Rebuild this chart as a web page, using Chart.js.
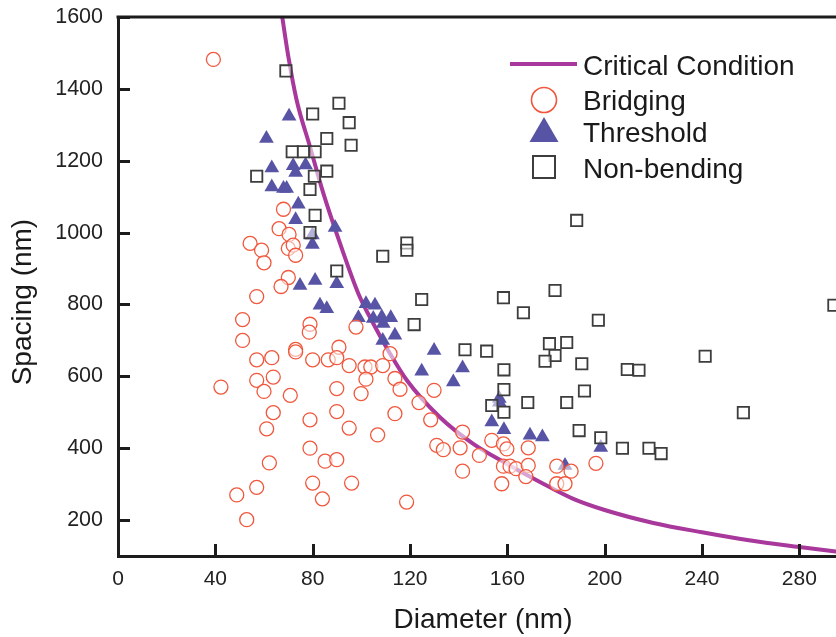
<!DOCTYPE html>
<html>
<head>
<meta charset="utf-8">
<title>Spacing vs Diameter</title>
<script src="https://cdn.jsdelivr.net/npm/chart.js"></script>
<style>
    html, body { margin: 0; padding: 0; background: #fff; overflow: hidden; }
    #wrap { width: 860px; height: 637px; }
</style>
</head>
<body>
<div id="wrap"><canvas id="chart" width="860" height="637"></canvas></div>
<script>
// Data
const xTicks = [0, 40, 80, 120, 160, 200, 240, 280];
const yTicks = [200, 400, 600, 800, 1000, 1200, 1400, 1600];

// Critical condition curve
const criticalX = [67.5, 70, 73.4, 78.9, 84.4, 91.5, 98.8, 104.9, 111.8, 118.7, 132.3, 146, 159.7, 173.4, 187.1, 200, 220, 240, 260, 280, 300];
const criticalY = [1600, 1490, 1369, 1239, 1109, 965, 830, 747, 663, 589, 486, 412, 357, 306, 259, 228, 192, 166, 143, 125, 108];

// Bridging (open circles)
const bridgingX = [39.2, 68, 66.2, 70.3, 54.3, 59, 70, 72, 73, 60, 70, 67, 57, 51.2, 78.9, 78.6, 51.2, 90.8, 73, 73,
    57, 63.2, 80, 86.4, 89.9, 95, 57, 63.8, 60, 42.3, 70.8, 89.9, 63.8, 89.9, 78.9, 61.1, 95, 78.9, 62.2, 85.1,
    89.9, 57, 80, 96, 48.8, 84, 52.9, 97.8, 111.8, 101.5, 103.9, 108.8, 101.9, 113.8, 115.9, 99.9, 129.9, 123.7, 113.8, 128.5,
    106.7, 141.6, 153.6, 158.4, 159.8, 131, 133.7, 140.6, 148.5, 168.6, 158.4, 161.1, 163.6, 168.6, 141.6, 167.6, 157.7, 180.3, 186.2, 180.3,
    183.7, 118.6, 196.4];
const bridgingY = [1482, 1065, 1011, 995, 970, 951, 956, 965, 937, 916, 875, 850, 822, 758, 745, 723, 700, 681, 675, 668,
    646, 652, 646, 646, 652, 630, 589, 598, 558, 570, 547, 566, 499, 502, 479, 454, 456, 400, 359, 364,
    368, 291, 303, 303, 270, 259, 201, 737, 663, 626, 626, 630, 592, 594, 564, 552, 561, 527, 496, 479,
    437, 445, 422, 412, 398, 408, 396, 401, 380, 401, 350, 350, 343, 352, 336, 321, 301, 350, 336, 301,
    301, 250, 358];

// Threshold (filled triangles)
const thresholdX = [70.3, 61, 63.2, 72, 77.1, 73, 63.2, 68, 69.3, 74.1, 73, 89.2, 79.9, 79.9, 74.8, 81, 89.9, 83, 85.8, 101.9,
    105.6, 98.8, 104.9, 108.4, 109, 112.1, 108.8, 113.8, 129.9, 124.8, 141.6, 137.8, 156.7, 156.7, 153.6, 158.6, 169.3, 174.4, 183.7, 198.4];
const thresholdY = [1324, 1262, 1180, 1186, 1188, 1167, 1127, 1123, 1123, 1079, 1036, 1014, 993, 967, 853, 867, 858, 798, 788, 802,
    798, 763, 761, 765, 747, 763, 700, 714, 672, 614, 623, 584, 538, 528, 473, 451, 436, 431, 352, 402];

// Non-bending (open squares)
const nonBendingX = [69, 90.8, 80, 95, 85.8, 95.8, 71.6, 76.2, 81, 85.8, 57, 80.7, 78.9, 81, 78.9, 89.9,
    188.5, 118.7, 118.7, 108.8, 179.6, 158.4, 124.8, 166.6, 121.7, 142.6, 151.5, 177.3, 184.4, 179.6, 175.5, 190.6, 158.6, 191.7,
    158.6, 153.6, 158.6, 168.4, 184.4, 189.5, 197.4, 209.3, 214.1, 241.3, 257, 294.2, 207.3, 218.2, 223.2, 198.4];
const nonBendingY = [1450, 1360, 1330, 1306, 1262, 1243, 1225, 1225, 1225, 1171, 1157, 1157, 1120, 1048, 1000, 893,
    1034, 971, 951, 934, 839, 819, 814, 777, 744, 674, 670, 691, 694, 658, 642, 635, 618, 559,
    563, 519, 500, 527, 527, 449, 756, 619, 617, 656, 499, 798, 400, 400, 385, 429];

const toPoints = (xs, ys) => xs.map((x, i) => ({ x: x, y: ys[i] }));

const FONT = '"Liberation Sans", Arial, sans-serif';
const AXIS_COLOR = '#1c1c1c';
const CURVE_COLOR = '#a8389b';
const CIRCLE_COLOR = '#f0573c';
const TRIANGLE_COLOR = '#5854a5';
const SQUARE_COLOR = '#3d3d3d';

// Inward tick marks, top frame line and the legend
const decorPlugin = {
    id: 'decor',
    afterDraw(chart) {
        const ctx = chart.ctx;
        const area = chart.chartArea;
        const xs = chart.scales.x;
        const ys = chart.scales.y;

        ctx.save();
        ctx.strokeStyle = AXIS_COLOR;
        ctx.lineWidth = 3;
        ctx.beginPath();
        yTicks.forEach(v => {
            const py = Math.round(ys.getPixelForValue(v)) + 0.5;
            ctx.moveTo(area.left, py);
            ctx.lineTo(area.left + 12, py);
        });
        xTicks.forEach(v => {
            const px = Math.round(xs.getPixelForValue(v)) + 0.5;
            ctx.moveTo(px, area.bottom);
            ctx.lineTo(px, area.bottom - 12);
        });
        // top frame
        ctx.moveTo(area.left - 1.5, area.top);
        ctx.lineTo(chart.width, area.top);
        ctx.stroke();

        // legend
        const lx = 544;
        ctx.strokeStyle = CURVE_COLOR;
        ctx.lineWidth = 4;
        ctx.beginPath();
        ctx.moveTo(510, 64);
        ctx.lineTo(577, 64);
        ctx.stroke();

        ctx.strokeStyle = CIRCLE_COLOR;
        ctx.lineWidth = 1.6;
        ctx.beginPath();
        ctx.arc(lx, 100, 12.5, 0, Math.PI * 2);
        ctx.stroke();

        ctx.fillStyle = TRIANGLE_COLOR;
        ctx.beginPath();
        ctx.moveTo(lx, 117);
        ctx.lineTo(lx + 14.5, 142);
        ctx.lineTo(lx - 14.5, 142);
        ctx.closePath();
        ctx.fill();

        ctx.strokeStyle = SQUARE_COLOR;
        ctx.lineWidth = 2;
        ctx.strokeRect(lx - 11, 156, 22, 22);

        ctx.fillStyle = '#1a1a1a';
        ctx.font = '28px ' + FONT;
        ctx.textAlign = 'left';
        ctx.textBaseline = 'alphabetic';
        ctx.fillText('Critical Condition', 583, 75);
        ctx.fillText('Bridging', 583, 110);
        ctx.fillText('Threshold', 583, 142);
        ctx.fillText('Non-bending', 583, 178);
        ctx.restore();
    }
};

new Chart(document.getElementById('chart'), {
    type: 'scatter',
    data: {
        datasets: [
            {
                label: 'Critical Condition',
                data: toPoints(criticalX, criticalY),
                showLine: true,
                borderColor: CURVE_COLOR,
                borderWidth: 4,
                pointRadius: 0,
                cubicInterpolationMode: 'monotone',
                order: 10
            },
            {
                label: 'Bridging',
                data: toPoints(bridgingX, bridgingY),
                pointStyle: 'circle',
                pointRadius: 7,
                borderWidth: 1.3,
                borderColor: CIRCLE_COLOR,
                backgroundColor: 'rgba(255,255,255,0.55)',
                order: 2
            },
            {
                label: 'Threshold',
                data: toPoints(thresholdX, thresholdY),
                pointStyle: 'triangle',
                pointRadius: 8.5,
                borderWidth: 0,
                borderColor: TRIANGLE_COLOR,
                backgroundColor: TRIANGLE_COLOR,
                order: 3
            },
            {
                label: 'Non-bending',
                data: toPoints(nonBendingX, nonBendingY),
                pointStyle: 'rect',
                pointRadius: 8,
                borderWidth: 1.8,
                borderColor: SQUARE_COLOR,
                backgroundColor: 'rgba(255,255,255,0.55)',
                order: 1
            }
        ]
    },
    options: {
        responsive: false,
        animation: false,
        layout: { padding: { left: 0, right: 12, top: 17, bottom: 0 } },
        plugins: {
            legend: { display: false },
            tooltip: { enabled: false }
        },
        scales: {
            x: {
                type: 'linear',
                min: 0,
                max: 300,
                afterBuildTicks: axis => { axis.ticks = xTicks.map(v => ({ value: v })); },
                afterFit: axis => {
                    axis.height = 81;
                    axis.paddingLeft = 0;
                    axis.paddingRight = 0;
                },
                grid: { display: false },
                border: { display: true, width: 3, color: AXIS_COLOR },
                ticks: {
                    padding: 3,
                    color: '#222',
                    font: { family: FONT, size: 21 },
                    maxRotation: 0,
                    callback: v => String(v)
                },
                title: {
                    display: true,
                    text: 'Diameter (nm)',
                    color: '#1a1a1a',
                    font: { family: FONT, size: 28 },
                    padding: { top: 0, bottom: 0 }
                }
            },
            y: {
                type: 'linear',
                min: 100,
                max: 1600,
                afterBuildTicks: axis => { axis.ticks = yTicks.map(v => ({ value: v })); },
                afterFit: axis => {
                    axis.width = 118;
                    axis.paddingTop = 0;
                    axis.paddingBottom = 0;
                },
                grid: { display: false },
                border: { display: true, width: 3, color: AXIS_COLOR },
                ticks: {
                    padding: 7,
                    color: '#222',
                    font: { family: FONT, size: 21.5 },
                    callback: v => String(v)
                },
                title: {
                    display: true,
                    // trailing spaces nudge the rotated title down to where the original sits
                    text: 'Spacing (nm)\u00a0\u00a0\u00a0\u00a0',
                    color: '#1a1a1a',
                    font: { family: FONT, size: 28 },
                    padding: { top: 6, bottom: 0 }
                }
            }
        }
    },
    plugins: [decorPlugin]
});
</script>
</body>
</html>
